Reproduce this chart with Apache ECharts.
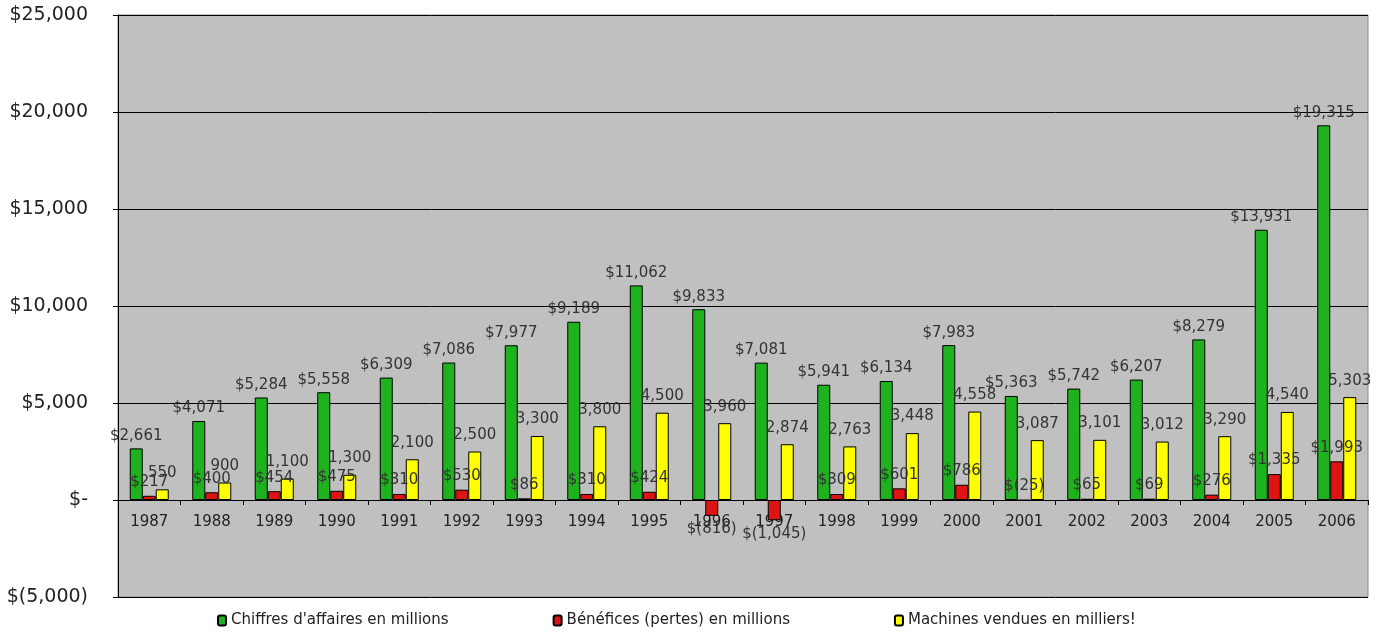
<!DOCTYPE html>
<html><head><meta charset="utf-8">
<script src="https://cdn.jsdelivr.net/npm/echarts@6/dist/echarts.min.js"></script>
<style>html,body{margin:0;padding:0;background:#fff}#c{width:1388px;height:633px}</style>
</head><body><div id="c"></div>
<script>
const years = ['1987','1988','1989','1990','1991','1992','1993','1994','1995','1996','1997','1998','1999','2000','2001','2002','2003','2004','2005','2006'];
const revenue = [2661,4071,5284,5558,6309,7086,7977,9189,11062,9833,7081,5941,6134,7983,5363,5742,6207,8279,13931,19315];
const profit = [217,400,454,475,310,530,86,310,424,-816,-1045,309,601,786,-25,65,69,276,1335,1993];
const machines = [550,900,1100,1300,2100,2500,3300,3800,4500,3960,2874,2763,3448,4558,3087,3101,3012,3290,4540,5303];
const seriesNames = ["Chiffres d'affaires en millions","Bénéfices (pertes) en millions","Machines vendues en milliers!"];

function num(v){return Math.abs(v).toLocaleString('en-US');}
function money(v){ if(v===0) return '$-'; return v<0 ? '$(' + num(v) + ')' : '$' + num(v); }

const lblBase = {show:true, fontFamily:'DejaVu Sans', fontSize:15, color:'#333'};

const chart = echarts.init(document.getElementById('c'), null, {renderer:'canvas'});
chart.setOption({
  animation:false,
  backgroundColor:'#ffffff',
  grid:{left:118,right:20,top:15,bottom:36,show:true,backgroundColor:'#c0c0c0',borderColor:'#8a8a8a',borderWidth:1},
  legend:{
    bottom:0,left:212,itemWidth:8,itemHeight:10,itemGap:104,
    textStyle:{fontFamily:'DejaVu Sans',fontSize:15,color:'#222'},
    data:seriesNames
  },
  xAxis:{
    type:'category',data:years,position:'bottom',offset:-97,
    axisLine:{onZero:false,lineStyle:{color:'#000',width:1}},
    axisTick:{show:true,alignWithLabel:false,length:5,lineStyle:{color:'#000'}},
    axisLabel:{fontFamily:'DejaVu Sans',fontSize:15,color:'#222',margin:15}
  },
  yAxis:{
    type:'value',min:-5000,max:25000,interval:5000,
    axisLine:{show:true,lineStyle:{color:'#000'}},
    axisTick:{show:true,length:5,lineStyle:{color:'#000'}},
    splitLine:{show:true,lineStyle:{color:'#000',width:1}},
    axisLabel:{fontFamily:'DejaVu Sans',fontSize:19,color:'#222',margin:30,verticalAlign:'middle',lineHeight:19,padding:[6,0,0,0],formatter:v=>money(v)}
  },
  series:[
    {name:seriesNames[0],type:'bar',barWidth:13,barGap:'0%',data:revenue,
     itemStyle:{color:'#1fb21f',borderColor:'#000',borderWidth:1},
     label:Object.assign({},lblBase,{position:'top',distance:5,formatter:p=>money(p.value)})},
    {name:seriesNames[1],type:'bar',barWidth:13,barGap:'0%',
     data:profit.map(v=>({value:v,label:{position:(v<-100?'bottom':'top')}})),
     itemStyle:{color:'#dd1414',borderColor:'#000',borderWidth:1},
     label:Object.assign({},lblBase,{distance:6,formatter:p=>money(p.value)})},
    {name:seriesNames[2],type:'bar',barWidth:13,barGap:'0%',data:machines,
     itemStyle:{color:'#ffff00',borderColor:'#000',borderWidth:1},
     label:Object.assign({},lblBase,{position:'top',distance:9,formatter:p=>num(p.value)})}
  ]
});
</script></body></html>
